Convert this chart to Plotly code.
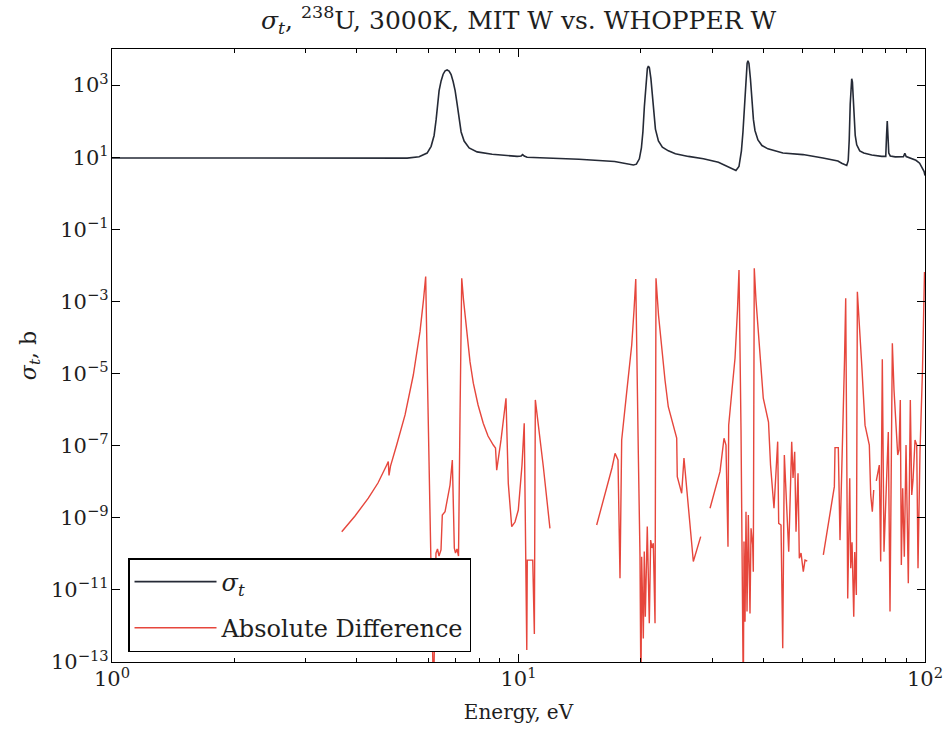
import plotly.graph_objects as go

# ---- data ----
# total cross section sigma_t (barns) vs energy (eV)
sigma_E = [1.0, 2.0, 3.0, 4.0, 5.0, 5.321, 5.695, 5.959, 6.096, 6.200, 6.271, 6.324, 6.378,
           6.451, 6.525, 6.599, 6.674, 6.750, 6.827, 6.905, 6.984, 7.063, 7.143, 7.225, 7.349,
           7.560, 7.910, 8.612, 9.923, 10.15, 10.24, 10.33, 10.5, 14.09, 17.24, 18.68, 19.17,
           19.50, 19.83, 20.06, 20.23, 20.40, 20.58, 20.75, 20.87, 20.99, 21.17, 21.35, 21.53,
           21.72, 22.09, 22.59, 23.37, 24.32, 26.18, 28.50, 31.03, 32.84, 34.27, 34.86, 35.35,
           35.66, 35.96, 36.27, 36.51, 36.68, 36.89, 37.20, 37.52, 37.84, 38.17, 38.82, 39.71,
           41.08, 44.71, 50.09, 56.10, 61.07, 62.39, 64.18, 64.73, 65.10, 65.47, 65.84, 66.03,
           66.29, 66.59, 66.97, 67.35, 67.93, 69.10, 70.68, 73.95, 78.26, 80.07, 80.43, 80.75,
           81.07, 81.44, 82.14, 84.50, 88.5, 89.2, 89.9, 92.0, 95.0, 97.0, 98.5, 99.5, 100.0]
sigma_t = [9.5, 9.4, 9.3, 9.3, 9.3, 9.4, 10.3, 13, 20, 40, 110, 300, 700,
           1300, 2000, 2480, 2620, 2450, 1950, 1250, 700, 300, 110, 50, 28,
           18, 14, 12, 10.5, 10.8, 11.8, 10.8, 10.0, 8.8, 7.6, 6.6, 6.1,
           6.4, 9, 18, 50, 250, 1200, 2900, 3350, 3000, 1500, 450, 140,
           60, 28, 19, 15, 12.4, 10.5, 9.0, 7.2, 5.5, 4.3, 5.5, 15,
           50, 300, 1800, 4000, 4700, 4000, 1500, 380, 110, 55, 30, 21,
           17, 13, 11.8, 9.5, 7.8, 6.8, 5.9, 8, 30, 300, 1300, 1500,
           1200, 400, 110, 40, 22, 15, 13, 11.5, 10.5, 10.5, 40, 100,
           40, 13, 10.8, 10.2, 10.3, 12.9, 10.4, 9.6, 8.2, 6.8, 5.2, 4.0, 3.1]

# absolute difference (barns) vs energy (eV); None marks gaps in the curve
diff_E = [3.674, 3.961, 4.271, 4.511, 4.741, 4.783, 4.802, 4.843, 5.015, 5.259, 5.511, 5.724,
          5.838, 5.911, 5.972, 6.093, 6.179, 6.266, 6.320, 6.374, 6.447, 6.495, 6.596, 6.785,
          6.874, 6.953, 6.998, 7.058, 7.119, 7.180, 7.250, 7.324, 7.458, 7.599, 7.742, 7.953,
          8.189, 8.414, 8.670, 8.779, 8.839, 9.057, 9.316, 9.438, 9.623, 9.804, 9.989, 10.20,
          10.33, 10.48, 10.51, 10.84, 10.94, 11.00, 11.51, 11.95,
          12.5,
          15.57, 16.32, 16.98, 17.28, 17.57, 17.77, 17.94, 18.46, 18.99, 19.24, 19.43, 19.71,
          19.90, 20.01, 20.09, 20.28, 20.39, 20.51, 20.74, 20.98, 21.14, 21.30, 21.46, 21.67,
          21.79, 22.10, 22.50, 22.93, 23.36, 23.99, 24.50, 24.58, 25.20, 25.53, 25.68, 26.92,
          28.07,
          28.8,
          29.59, 30.61, 31.31, 32.03, 32.39, 32.76, 32.89, 33.51, 34.09, 34.57, 34.87, 35.27,
          35.47, 35.73, 35.87, 36.08, 36.28, 36.49, 36.76, 37.11, 37.33, 37.68, 37.81, 38.02,
          38.39, 38.89, 40.01, 41.21, 41.69, 42.51, 43.41, 43.66, 44.24, 44.67, 45.08, 46.21,
          47.00, 47.35, 47.80, 48.16, 48.71, 49.07, 49.55, 50.19, 50.68, 51.33,
          53.5,
          56.22, 58.06, 59.84, 60.07, 61.20, 61.79, 62.50, 63.39, 63.82, 64.55, 65.29, 65.66,
          66.15, 66.79, 67.17, 67.78, 68.17, 68.82, 69.89, 71.20, 72.95, 73.53, 74.20, 74.79,
          75.3,
          75.89, 77.19, 77.80, 78.52, 79.27, 81.23, 82.02, 83.11, 83.90, 85.68, 86.30, 86.95,
          87.45, 88.13, 88.95, 89.81, 90.98, 92.02, 92.76, 93.45, 94.51, 95.42, 96.12, 97.21,
          98.59, 99.72]
diff_v = [4.1e-10, 1.12e-9, 3.5e-9, 9.2e-9, 2.9e-8, 3.6e-8, 1.5e-8, 2.7e-8, 1.04e-7, 7.1e-7, 9.1e-6, 1.45e-4,
          1.10e-3, 4.9e-3, 6.6e-6, 6.7e-11, 1e-14, 1.05e-10, 1.36e-10, 8.7e-11, 1.28e-10, 1.19e-9, 1.47e-9, 8.1e-9,
          4.0e-8, 1.43e-10, 1.05e-10, 1.36e-10, 8.7e-11, 6.4e-7, 4.4e-3, 1.10e-3, 1.31e-4, 2.1e-5, 5.4e-6, 1.34e-6,
          4.2e-7, 1.85e-7, 1.04e-7, 8.6e-8, 2.1e-8, 1.44e-7, 2.06e-6, 9.0e-9, 5.7e-10, 7.6e-10, 1.64e-9, 2.9e-8,
          4.2e-7, 2.15e-13, 6.7e-11, 6.7e-11, 6.0e-13, 1.85e-6, 2.6e-8, 5.1e-10,
          None,
          6.3e-10, 4.3e-9, 2.4e-8, 6.1e-8, 4.0e-8, 2.1e-11, 1.44e-7, 3.1e-6, 6.2e-5, 5.8e-4, 4.2e-3, 6.8e-8,
          9.3e-11, 1e-14, 8.3e-11, 4.5e-13, 1.15e-10, 1.8e-12, 5.7e-10, 1.19e-12, 2.4e-10, 1.45e-10, 1.96e-10, 1.19e-12,
          4.4e-3, 4.2e-4, 4.5e-5, 6.6e-6, 1.2e-6, 3.7e-7, 1.63e-7, 1.38e-8, 4.8e-9, 4.5e-8, 2.1e-8, 6.1e-11,
          3.0e-10,
          None,
          1.83e-9, 7.1e-9, 1.9e-8, 1.6e-7, 1.04e-7, 1.58e-10, 3.7e-7, 3.5e-6, 2.65e-5, 5.8e-4, 7.4e-3, 2.7e-7,
          1.76e-10, 1e-14, 2.2e-10, 1.31e-12, 1.47e-9, 2.5e-12, 1.19e-9, 2.2e-12, 5.1e-10, 1.76e-10, 3.2e-11, 8.3e-3,
          1.10e-3, 1.45e-4, 2.06e-6, 4.5e-7, 2.9e-8, 1.83e-9, 1.29e-7, 7.0e-10, 6.3e-10, 2.4e-13, 5.5e-8, 1.15e-10,
          1.29e-7, 1.27e-8, 6.8e-8, 4.1e-10, 1.71e-8, 7.5e-11, 1.05e-10, 3.2e-11, 6.7e-11, 6.3e-11,
          None,
          9.3e-11, 8.7e-10, 7.3e-9, 8.8e-8, 8.8e-8, 2.4e-10, 2.1e-8, 2.4e-5, 1.22e-3, 5.8e-12, 1.24e-8, 4.0e-11,
          2.1e-10, 1.8e-12, 1.12e-10, 7.2e-12, 1.86e-3, 2.2e-4, 1.73e-5, 3.7e-7, 1.04e-7, 4.3e-9, 1.47e-9, 5.9e-9,
          None,
          1.05e-8, 2.9e-8, 6.1e-11, 2.5e-5, 1.15e-10, 2.4e-7, 2.5e-12, 6.9e-5, 3.5e-6, 5.5e-8, 7.6e-8, 1.85e-6,
          4.9e-11, 6.6e-9, 8.3e-11, 1.04e-7, 1.52e-11, 1.85e-6, 4.3e-9, 1.12e-8, 1.44e-7, 1.04e-7, 4.0e-11, 6.8e-8,
          1.25e-5, 6.5e-3]

x_tick_vals = [1, 10, 100]
x_tick_text = ["10<sup>0</sup>", "10<sup>1</sup>", "10<sup>2</sup>"]
x_minor_vals = [2, 3, 4, 5, 6, 7, 8, 9, 20, 30, 40, 50, 60, 70, 80, 90]
y_exps = [-13, -11, -9, -7, -5, -3, -1, 1, 3]
y_tick_vals = [10.0 ** e for e in y_exps]
y_tick_text = ["10<sup>%s</sup>" % (str(e).replace("-", "\u2212")) for e in y_exps]

FONT = "DejaVu Serif"
TXT = "#1e1e1e"
BLACK_LINE = "#252a36"
RED_LINE = "#e6463c"

fig = go.Figure()
fig.add_trace(go.Scatter(x=sigma_E, y=sigma_t, mode="lines", name="<i>σ<sub>t</sub></i>",
                         line=dict(color=BLACK_LINE, width=1.6), legendgroup="a"))
fig.add_trace(go.Scatter(x=diff_E, y=diff_v, mode="lines", name="Absolute Difference",
                         line=dict(color=RED_LINE, width=1.4), connectgaps=False, legendgroup="b"))

axis_common = dict(showline=True, linecolor="black", linewidth=1.3, ticks="inside",
                   mirror="allticks", showgrid=False, zeroline=False, tickcolor="black",
                   automargin=False, tickfont=dict(family=FONT, size=21, color=TXT))

fig.update_layout(
    width=947, height=732,
    margin=dict(l=112, r=22, t=49, b=70, autoexpand=False),
    paper_bgcolor="white", plot_bgcolor="white",
    title=dict(text="<i>σ<sub>t</sub></i>, <sup>238</sup>U, 3000K, MIT W vs. WHOPPER W",
               x=0.5, xref="paper", y=1 - 20 / 732, yref="container", yanchor="middle",
               font=dict(family=FONT, size=25, color=TXT)),
    xaxis=dict(type="log", range=[0, 2], tickvals=x_tick_vals, ticktext=x_tick_text, ticklen=8,
               minor=dict(tickvals=x_minor_vals, ticks="inside", ticklen=4, tickcolor="black"),
               title=dict(text="Energy, eV", font=dict(family=FONT, size=20, color=TXT), standoff=14),
               ticklabelstandoff=-2,
               **axis_common),
    yaxis=dict(type="log", range=[-13, 4], tickvals=y_tick_vals, ticktext=y_tick_text, ticklen=8,
               title=dict(text="<i>σ<sub>t</sub></i>, b", font=dict(family=FONT, size=22, color=TXT), standoff=8),
               ticklabelstandoff=-2,
               **axis_common),
    legend=dict(x=0.0197, y=0.0163, xanchor="left", yanchor="bottom", bgcolor="white",
                bordercolor="black", borderwidth=1.5, font=dict(family=FONT, size=24, color=TXT),
                tracegroupgap=12, itemwidth=82),
    showlegend=True,
)

fig.write_html("out.html")
